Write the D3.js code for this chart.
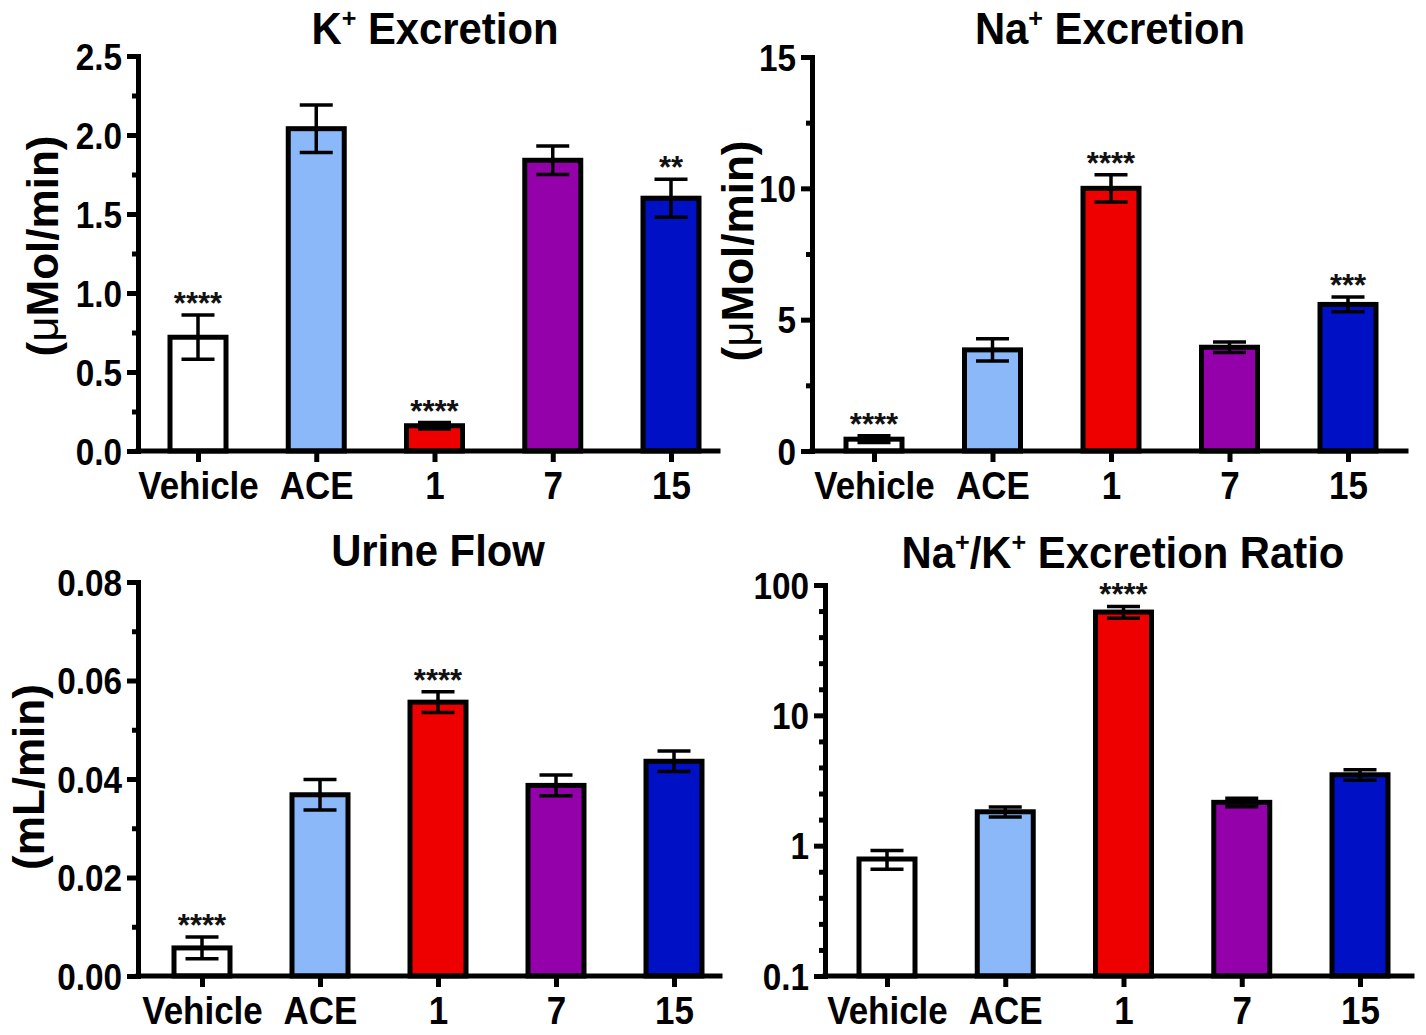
<!DOCTYPE html>
<html>
<head>
<meta charset="utf-8">
<script src="https://cdn.jsdelivr.net/npm/d3@7"></script>
<style>
  html, body { margin: 0; padding: 0; background: #ffffff; }
  svg { display: block; font-family: "Liberation Sans", Arial, sans-serif; }
</style>
</head>
<body>
<svg id="chart" width="1426" height="1035"></svg>
<script>
// ---------------- data ----------------
const categories = ["Vehicle", "ACE", "1", "7", "15"];
const barColors = ["#ffffff", "#8ab8f8", "#ee0000", "#9400aa", "#0010c4"];

const kMean = [0.72, 2.04, 0.16, 1.84, 1.60];
const kErr  = [0.14, 0.15, 0.02, 0.09, 0.12];
const kStars = ["****", "", "****", "", "**"];
const kTicks = [0, 0.5, 1.0, 1.5, 2.0, 2.5];
const kMinor = [0.25, 0.75, 1.25, 1.75, 2.25];

const naMean = [0.45, 3.85, 10.0, 3.95, 5.58];
const naErr  = [0.13, 0.42, 0.52, 0.20, 0.28];
const naStars = ["****", "", "****", "", "***"];
const naTicks = [0, 5, 10, 15];
const naMinor = [2.5, 7.5, 12.5];

const flowMean = [0.0057, 0.0368, 0.0556, 0.0387, 0.0436];
const flowErr  = [0.0022, 0.0031, 0.0021, 0.0021, 0.0021];
const flowStars = ["****", "", "****", "", ""];
const flowTicks = [0, 0.02, 0.04, 0.06, 0.08];
const flowMinor = [0.01, 0.03, 0.05, 0.07];

const ratioMean = [0.79, 1.82, 62, 2.15, 3.5];
const ratioErr  = [0.13, 0.16, 6.5, 0.16, 0.33];
const ratioStars = ["", "", "****", "", ""];
const ratioTicks = [0.1, 1, 10, 100];
const ratioTickLabels = ["0.1", "1", "10", "100"];
const ratioMinorExp = [-0.8, -0.6, -0.4, -0.2, 0.2, 0.4, 0.6, 0.8, 1.2, 1.4, 1.6, 1.8];

// ---------------- layout ----------------
const svg = d3.select("#chart");

const panels = [
  { title: [["K", 0], ["+", 1], [" Excretion", 0]], tx: 435, ty: 44,
    ylab: [["(", 0], ["\u03bc", 2], ["Mol/min)", 0]], ylx: 58, yly: 246,
    left: 138, right: 718, top: 56, bottom: 451, c0: 198, c4: 671,
    log: false, domain: [0, 2.5], ticks: kTicks, minor: kMinor, fmt: d => d3.format(".1f")(d),
    mean: kMean, err: kErr, stars: kStars },
  { title: [["Na", 0], ["+", 1], [" Excretion", 0]], tx: 1110, ty: 44,
    ylab: [["(", 0], ["\u03bc", 2], ["Mol/min)", 0]], ylx: 753, yly: 251,
    left: 812, right: 1406, top: 57, bottom: 451, c0: 874, c4: 1348,
    log: false, domain: [0, 15], ticks: naTicks, minor: naMinor, fmt: d => String(d),
    mean: naMean, err: naErr, stars: naStars },
  { title: [["Urine Flow", 0]], tx: 438, ty: 566,
    ylab: [["(mL/min)", 0]], ylx: 44, yly: 777,
    left: 138, right: 720, top: 582, bottom: 976, c0: 202, c4: 674,
    log: false, domain: [0, 0.08], ticks: flowTicks, minor: flowMinor, fmt: d => d3.format(".2f")(d),
    mean: flowMean, err: flowErr, stars: flowStars },
  { title: [["Na", 0], ["+", 1], ["/K", 0], ["+", 1], [" Excretion Ratio", 0]], tx: 1123, ty: 568,
    ylab: null,
    left: 825, right: 1412, top: 585, bottom: 976, c0: 887, c4: 1360,
    log: true, domain: [0.1, 100], ticks: ratioTicks, minor: ratioMinorExp.map(e => Math.pow(10, e)),
    fmt: d => ratioTickLabels[ratioTicks.indexOf(d)],
    mean: ratioMean, err: ratioErr, stars: ratioStars }
];

function addRichText(sel, parts, size) {
  parts.forEach(([txt, kind], i) => {
    const t = sel.append("tspan").text(txt);
    if (kind === 1) {
      t.attr("font-size", size * 0.6).attr("dy", -size * 0.38);
    } else if (kind === 2) {
      t.attr("font-weight", "normal");
      if (i > 0 && parts[i - 1][1] === 1) t.attr("dy", size * 0.38);
    } else {
      if (i > 0 && parts[i - 1][1] === 1) t.attr("dy", size * 0.38);
    }
  });
}

// horizontally condense text (reference glyphs are narrow/tall)
function condense(sel, factor) {
  sel.each(function () {
    const len = this.getComputedTextLength();
    if (len > 0) {
      d3.select(this).attr("textLength", len * factor).attr("lengthAdjust", "spacingAndGlyphs");
    }
  });
}

panels.forEach(p => {
  const g = svg.append("g");
  const x = d3.scalePoint().domain(categories).range([p.c0, p.c4]);
  const y = (p.log ? d3.scaleLog() : d3.scaleLinear()).domain(p.domain).range([p.bottom, p.top]);
  const barW = 56;
  const capW = 33;
  const base = p.bottom;

  // bars
  g.selectAll("rect.bar").data(categories).join("rect")
    .attr("class", "bar")
    .attr("x", c => x(c) - barW / 2)
    .attr("y", (c, i) => y(p.mean[i]))
    .attr("width", barW)
    .attr("height", (c, i) => base - y(p.mean[i]))
    .attr("fill", (c, i) => barColors[i])
    .attr("stroke", "#000")
    .attr("stroke-width", 5);

  // error bars
  const eb = g.selectAll("g.err").data(categories).join("g").attr("class", "err")
    .attr("stroke", "#000").attr("stroke-width", 3.5);
  eb.append("line")
    .attr("x1", c => x(c)).attr("x2", c => x(c))
    .attr("y1", (c, i) => y(p.mean[i] + p.err[i]))
    .attr("y2", (c, i) => y(p.mean[i] - p.err[i]));
  eb.append("line")
    .attr("x1", c => x(c) - capW / 2).attr("x2", c => x(c) + capW / 2)
    .attr("y1", (c, i) => y(p.mean[i] + p.err[i]))
    .attr("y2", (c, i) => y(p.mean[i] + p.err[i]));
  eb.append("line")
    .attr("x1", c => x(c) - capW / 2).attr("x2", c => x(c) + capW / 2)
    .attr("y1", (c, i) => y(p.mean[i] - p.err[i]))
    .attr("y2", (c, i) => y(p.mean[i] - p.err[i]));

  // stars
  g.selectAll("text.star").data(categories).join("text")
    .attr("class", "star")
    .attr("x", c => x(c))
    .attr("y", (c, i) => y(p.mean[i] + p.err[i]) - 1)
    .attr("text-anchor", "middle")
    .attr("font-size", 31)
    .attr("font-weight", "bold")
    .attr("fill", "#111")
    .text((c, i) => p.stars[i]);

  // y axis: minor ticks
  const yMinor = g.append("g").attr("transform", `translate(${p.left},0)`)
    .call(d3.axisLeft(y).tickValues(p.minor).tickSize(6).tickFormat(""));
  yMinor.select(".domain").remove();
  yMinor.selectAll("line").attr("stroke-width", 5);

  // y axis: major
  const yAx = g.append("g").attr("transform", `translate(${p.left},0)`)
    .call(d3.axisLeft(y).tickValues(p.ticks).tickSize(11).tickSizeOuter(0).tickPadding(5).tickFormat(p.fmt));
  yAx.select(".domain").attr("stroke-width", 5).attr("stroke-linecap", "square");
  yAx.selectAll("line").attr("stroke-width", 5);
  const yTxt = yAx.selectAll("text").attr("font-size", 37).attr("font-weight", "bold").attr("fill", "#000")
    .attr("font-family", "Liberation Sans, Arial, sans-serif").attr("dy", "0.36em");
  condense(yTxt, 0.9);

  // x axis
  const xAx = g.append("g").attr("transform", `translate(0,${p.bottom})`)
    .call(d3.axisBottom(x).tickSize(11).tickSizeOuter(0).tickPadding(10));
  xAx.select(".domain").attr("d", `M${p.left},0H${p.right}`).attr("stroke-width", 5).attr("stroke-linecap", "square");
  xAx.selectAll("line").attr("stroke-width", 5);
  const xTxt = xAx.selectAll("text").attr("font-size", 38).attr("font-weight", "bold").attr("fill", "#000")
    .attr("font-family", "Liberation Sans, Arial, sans-serif");
  condense(xTxt, 0.92);

  // title
  const t = g.append("text").attr("x", p.tx).attr("y", p.ty)
    .attr("text-anchor", "middle").attr("font-size", 44).attr("font-weight", "bold");
  addRichText(t, p.title, 44);
  condense(t, 0.95);

  // y label
  if (p.ylab) {
    const yl = g.append("text")
      .attr("transform", `translate(${p.ylx},${p.yly}) rotate(-90)`)
      .attr("text-anchor", "middle").attr("font-size", 44).attr("font-weight", "bold");
    addRichText(yl, p.ylab, 44);
  }
});
</script>
</body>
</html>
